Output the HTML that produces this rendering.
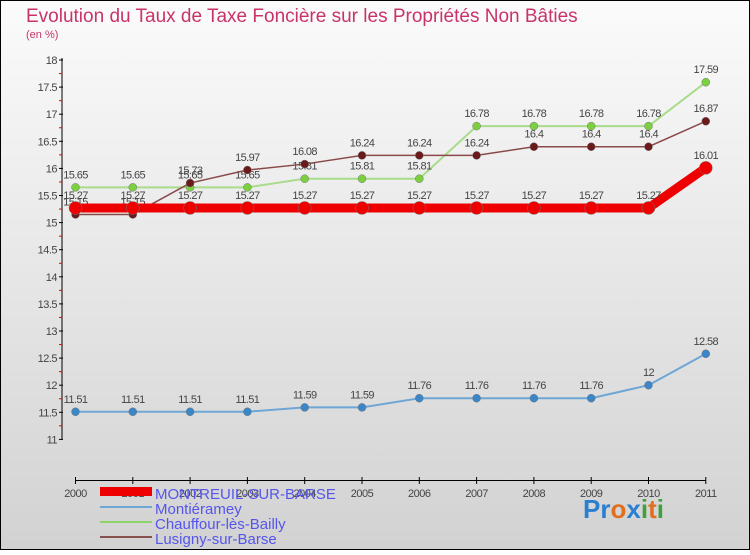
<!DOCTYPE html>
<html><head><meta charset="utf-8"><style>
body{margin:0;width:750px;height:550px;overflow:hidden;font-family:"Liberation Sans",sans-serif}
svg text{font-family:"Liberation Sans",sans-serif}
</style></head><body>
<svg width="750" height="550" xmlns="http://www.w3.org/2000/svg">
<defs><linearGradient id="bg" x1="0" y1="0" x2="0" y2="1"><stop offset="0" stop-color="#fbfbfb"/><stop offset="1" stop-color="#d2d2d2"/></linearGradient></defs>
<rect x="0.5" y="0.5" width="749" height="549" fill="url(#bg)" stroke="#000"/>
<text x="26" y="22" font-size="19" fill="#c8336a">Evolution du Taux de Taxe Foncière sur les Propriétés Non Bâties</text>
<text x="26" y="38" font-size="11" fill="#c8336a">(en %)</text>
<g id="axes"></g><g id="series"></g>
<g>
<rect x="100" y="487" width="52" height="9" fill="#e00"/>
<text x="155" y="499" font-size="15" fill="#5555ee">MONTREUIL-SUR-BARSE</text>
<rect x="100" y="506" width="52" height="2" fill="#6ea6d6"/>
<text x="155" y="514" font-size="15" fill="#5555ee">Montiéramey</text>
<rect x="100" y="521" width="52" height="2" fill="#8cd46a"/>
<text x="155" y="529" font-size="15" fill="#5555ee">Chauffour-lès-Bailly</text>
<rect x="100" y="536" width="52" height="2" fill="#8a5050"/>
<text x="155" y="544" font-size="15" fill="#5555ee">Lusigny-sur-Barse</text>
</g>
<text x="583" y="518" font-size="26" font-weight="bold"><tspan fill="#2a7fd0">Pr</tspan><tspan fill="#e07020">o</tspan><tspan fill="#2a7fd0">x</tspan><tspan fill="#40a040">i</tspan><tspan fill="#e07020">t</tspan><tspan fill="#40a040">i</tspan></text>
</svg>
<script>
const years=[2000,2001,2002,2003,2004,2005,2006,2007,2008,2009,2010,2011];
const montreuil=[15.27,15.27,15.27,15.27,15.27,15.27,15.27,15.27,15.27,15.27,15.27,16.01];
const montieramey=[11.51,11.51,11.51,11.51,11.59,11.59,11.76,11.76,11.76,11.76,12,12.58];
const chauffour=[15.65,15.65,15.65,15.65,15.81,15.81,15.81,16.78,16.78,16.78,16.78,17.59];
const lusigny=[15.15,15.15,15.73,15.97,16.08,16.24,16.24,16.24,16.4,16.4,16.4,16.87];
const yTicks=[11,11.5,12,12.5,13,13.5,14,14.5,15,15.5,16,16.5,17,17.5,18];
const NS="http://www.w3.org/2000/svg";
const X=i=>75.5+i*57.3, Y=v=>60+(18-v)*54.2;
function mk(t,a,p){const e=document.createElementNS(NS,t);for(const k in a)e.setAttribute(k,a[k]);p.appendChild(e);return e;}
const ax=document.getElementById('axes'), sg=document.getElementById('series');
let l=mk('line',{x1:62,y1:58,x2:62,y2:Y(11),stroke:'#000'},ax);

l=mk('line',{x1:X(0),y1:480.5,x2:X(11),y2:480.5,stroke:'#000'},ax);

yTicks.forEach(v=>{mk('line',{x1:59,y1:Y(v),x2:63,y2:Y(v),stroke:'#000'},ax);
mk('line',{x1:59,y1:Y(v+0.25),x2:62,y2:Y(v+0.25),stroke:v<18?'#e00':'none'},ax);
const t=mk('text',{x:57,y:Y(v)+4,'font-size':11,fill:'#444','text-anchor':'end','letter-spacing':'-0.5'},ax);t.textContent=v;
});
years.forEach((y,i)=>{mk('line',{x1:X(i),y1:477,x2:X(i),y2:484,stroke:'#000'},ax);
const t=mk('text',{x:X(i),y:497,'font-size':11,fill:'#444','text-anchor':'middle','letter-spacing':'-0.5'},ax);t.textContent=y;
});
function series(d,name,col,w,r,dot){const g=mk('g',{},sg);

const p=mk('polyline',{points:d.map((v,i)=>X(i)+','+Y(v)).join(' '),fill:'none',stroke:col,'stroke-width':w},g);

d.forEach((v,i)=>{const c=mk('circle',{cx:X(i),cy:Y(v),r:r,fill:dot,stroke:'#777','stroke-width':0.5},g);

const t=mk('text',{x:X(i),y:Y(v)-9,'font-size':11,fill:'#444','text-anchor':'middle','letter-spacing':'-0.6'},g);t.textContent=v;
});}
series(chauffour,'chauffour','#a8dc8a',2,4,'#7cd040');
series(lusigny,'lusigny','#8a4a4a',1.5,4,'#6a1a1a');
series(montreuil,'montreuil','#e00',9,6.5,'#e00');
series(montieramey,'montieramey','#6ea6d6',2,4,'#3a86c6');
</script>
</body></html>
